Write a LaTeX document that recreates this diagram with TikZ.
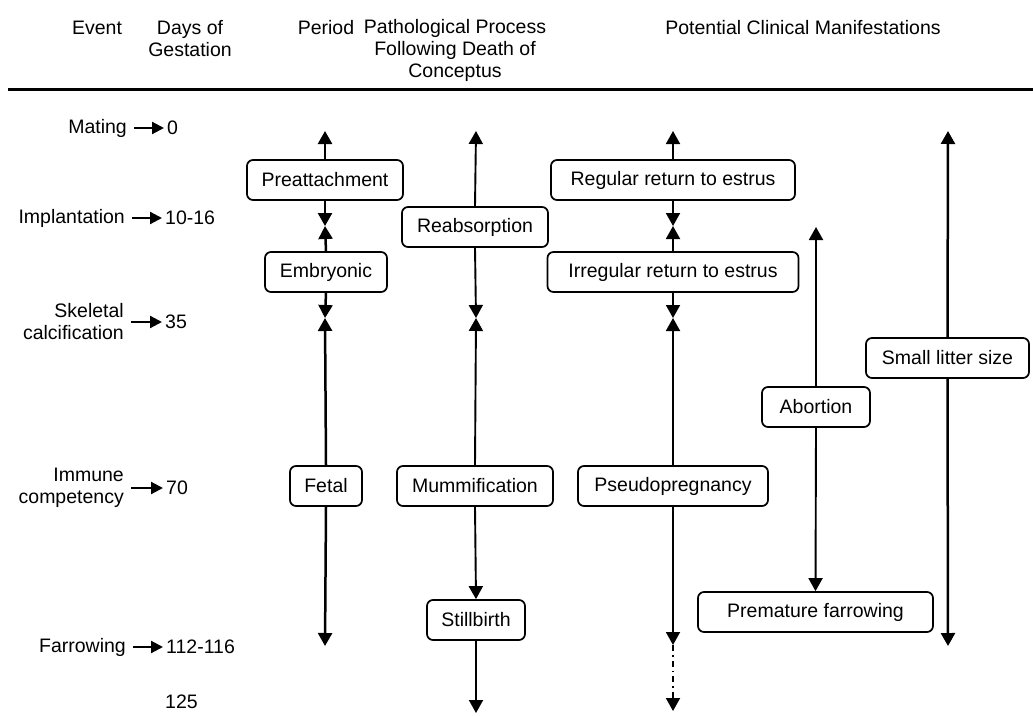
\documentclass[tikz,border=0pt]{standalone}
\usepackage{fontspec}
\setmainfont{Liberation Sans}
\usetikzlibrary{arrows.meta}
\begin{document}
\begin{tikzpicture}[x=1pt,y=-1pt,
  font=\fontsize{19.5}{22}\selectfont,
  box/.style={draw,line width=1.7pt,rounded corners=6pt,minimum height=40pt,inner sep=0pt,fill=white},
  hdr/.style={align=center,inner sep=0pt},
  lab/.style={align=right,inner sep=0pt,anchor=east},
  num/.style={inner sep=0pt,anchor=west},
  tip/.style={-{Triangle[length=13pt,width=14pt]}},
  stip/.style={-{Triangle[length=12pt,width=12pt]},line width=2.2pt},
  thin/.style={line width=1.9pt},
  thick/.style={line width=2.5pt}]
\useasboundingbox (0,0) rectangle (1033,717);
% header
\node[hdr] (hEvent) at (97,28) {Event};
\node[hdr] (hDays) at (190,39) {Days of\\Gestation};
\node[hdr] (hPeriod) at (326,28) {Period};
\node[hdr] (hPath) at (455,50) {Pathological Process\\Following Death of\\Conceptus};
\node[hdr] (hPot) at (803,28) {Potential Clinical Manifestations};
\coordinate (hl1) at (8,89);
\coordinate (hl2) at (1033,89);
\draw[line width=3pt] (hl1) -- (hl2);
% left labels
\node[lab] (e1) at (127,128) {Mating};
\node[num] (d1) at (167,128) {0};
\node[lab] (e2) at (125,218) {Implantation};
\node[num] (d2) at (165,218) {10-16};
\node[lab] (e3) at (124,322) {Skeletal\\calcification};
\node[num] (d3) at (165,322) {35};
\node[lab] (e4) at (124,488) {Immune\\competency};
\node[num] (d4) at (166,488) {70};
\node[lab] (e5) at (126,647) {Farrowing};
\node[num] (d5) at (166,647) {112-116};
\node[num] (d6) at (165,702) {125};
\foreach \i in {1,...,5} \draw[stip] ([xshift=7pt]e\i.east) -- ([xshift=-3pt]d\i.west);
% column 1: Period
\node[box,minimum width=156pt] (pre) at (325,180) {Preattachment};
\node[box,minimum width=122pt] (emb) at (326,272) {Embryonic};
\node[box,minimum width=72pt] (fet) at (326,486) {Fetal};
\coordinate (c1t) at (325,131);
\coordinate (c1a) at (325,226);
\coordinate (c1b) at (325,318);
\coordinate (c1e) at (325,646);
\draw[tip,thick] (pre.north) -- (c1t);
\draw[tip,thick] (pre.south) -- (c1a);
\draw[tip,thick] (emb.north) -- (c1a);
\draw[tip,thick] (emb.south) -- (c1b);
\draw[tip,thick] (fet.north) -- (c1b);
\draw[tip,thick] (fet.south) -- (c1e);
% column 2: pathological process
\node[box,minimum width=146pt] (rea) at (475,227) {Reabsorption};
\node[box,minimum width=156pt] (mum) at (475,486) {Mummification};
\node[box,minimum width=98pt] (sti) at (476,620) {Stillbirth};
\coordinate (c2t) at (476,131);
\coordinate (c2b) at (476,318);
\coordinate (c2e) at (476,713);
\draw[tip,thin] (rea.north) -- (c2t);
\draw[tip,thin] (rea.south) -- (c2b);
\draw[tip,thin] (mum.north) -- (c2b);
\draw[tip,thin] (mum.south) -- (sti.north);
\draw[tip,thin] (sti.south) -- (c2e);
% column 3
\node[box,minimum width=244pt] (reg) at (673,180) {Regular return to estrus};
\node[box,minimum width=251pt] (irr) at (673,272) {Irregular return to estrus};
\node[box,minimum width=190pt] (pse) at (673,486) {Pseudopregnancy};
\coordinate (c3t) at (673,131);
\coordinate (c3a) at (673,226);
\coordinate (c3b) at (673,318);
\coordinate (c3c) at (673,645);
\coordinate (c3e) at (673,711);
\draw[tip,thin] (reg.north) -- (c3t);
\draw[tip,thin] (reg.south) -- (c3a);
\draw[tip,thin] (irr.north) -- (c3a);
\draw[tip,thin] (irr.south) -- (c3b);
\draw[tip,thin] (pse.north) -- (c3b);
\draw[tip,thin] (pse.south) -- (c3c);
\draw[tip,thin,dash pattern=on 6pt off 4pt on 1.5pt off 4pt] (c3c) -- (c3e);
% column 4
\node[box,minimum width=108pt] (abo) at (816,407) {Abortion};
\node[box,minimum width=235pt] (pfa) at (815.5,612) {Premature farrowing};
\coordinate (c4t) at (816,227);
\draw[tip,thin] (abo.north) -- (c4t);
\draw[tip,thin] (abo.south) -- (pfa.north);
% column 5
\node[box,minimum width=163pt] (sml) at (947.5,358) {Small litter size};
\coordinate (c5t) at (948,131);
\coordinate (c5e) at (948,646);
\draw[tip,thick] (sml.north) -- (c5t);
\draw[tip,thick] (sml.south) -- (c5e);
\end{tikzpicture}
\end{document}
